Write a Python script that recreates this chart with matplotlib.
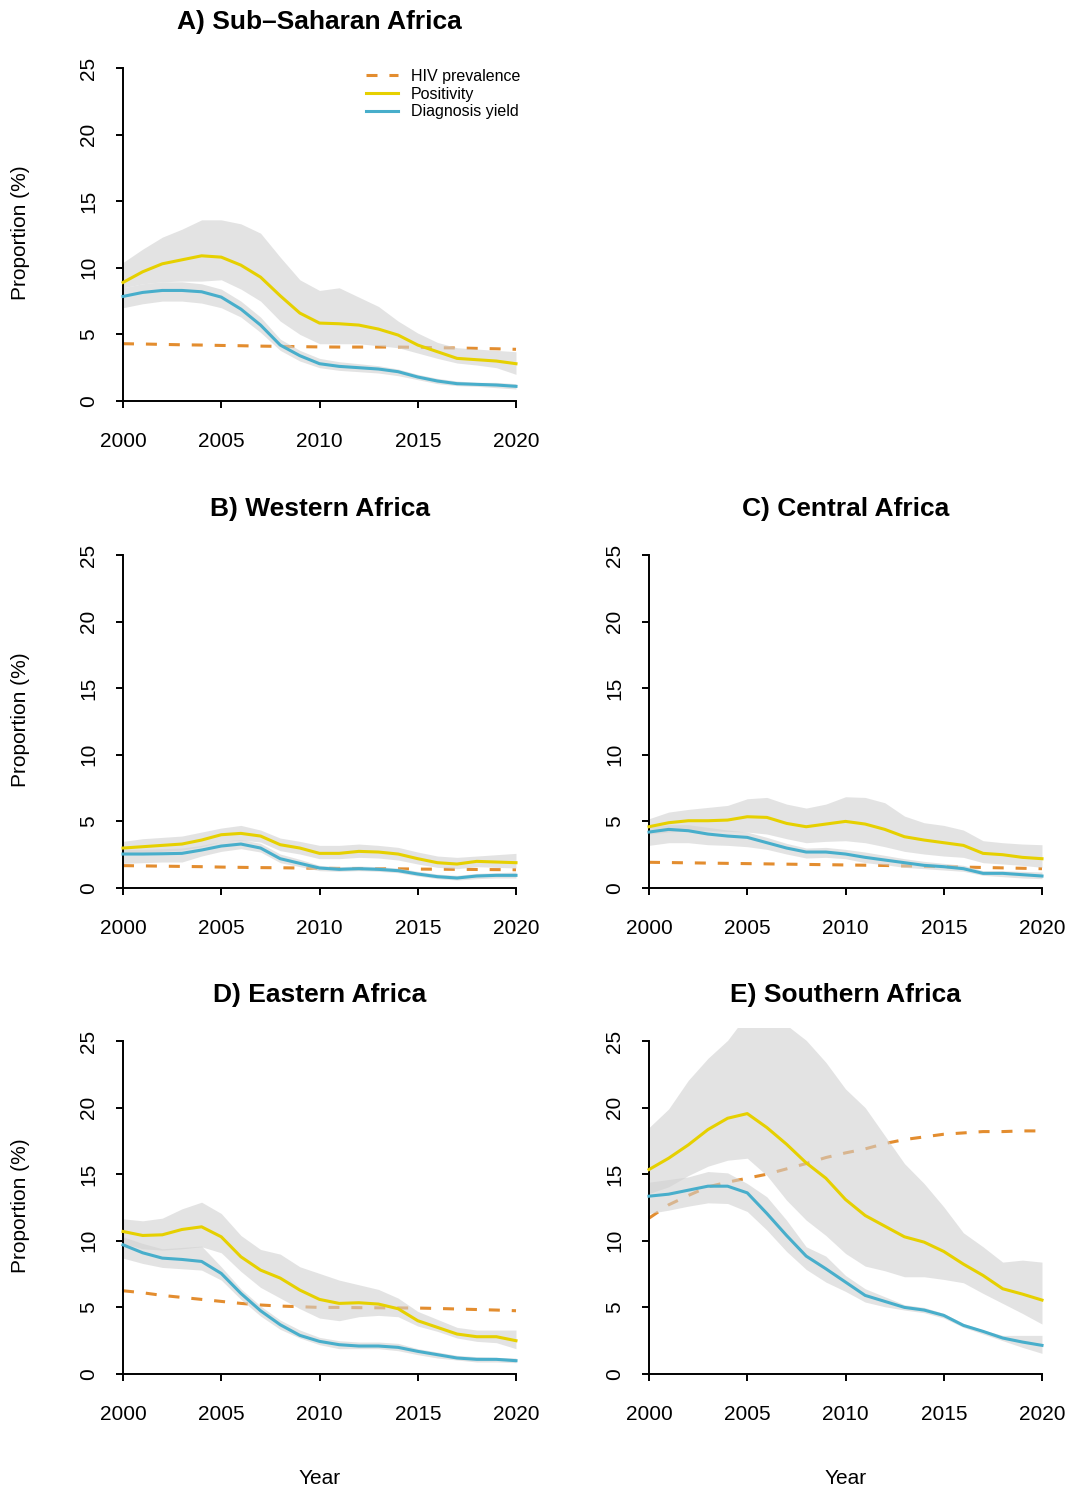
import matplotlib
matplotlib.use("Agg")
import matplotlib.pyplot as plt
import numpy as np

plt.rcParams['font.family'] = ['Liberation Sans', 'DejaVu Sans']

years = list(range(2000, 2021))

# A) Sub-Saharan Africa
ssa_hiv = [4.30, 4.28, 4.25, 4.22, 4.20, 4.17, 4.15, 4.12, 4.10, 4.08, 4.06, 4.05, 4.05, 4.05, 4.05, 4.03, 4.00, 3.98, 3.95, 3.92, 3.88]
ssa_pos = [8.9, 9.7, 10.3, 10.6, 10.9, 10.8, 10.2, 9.3, 7.9, 6.6, 5.85, 5.8, 5.7, 5.4, 4.95, 4.2, 3.7, 3.2, 3.1, 3.0, 2.8]
ssa_pos_hi = [10.4, 11.4, 12.3, 12.9, 13.6, 13.6, 13.3, 12.6, 10.8, 9.1, 8.3, 8.5, 7.8, 7.1, 6.0, 5.1, 4.4, 4.0, 3.9, 3.8, 3.7]
ssa_pos_lo = [8.5, 8.8, 8.95, 9.0, 9.0, 9.1, 8.4, 7.5, 6.0, 5.0, 4.3, 4.3, 4.3, 4.15, 4.0, 3.6, 3.2, 2.85, 2.7, 2.5, 2.0]
ssa_yld = [7.85, 8.15, 8.3, 8.3, 8.2, 7.8, 6.9, 5.7, 4.2, 3.4, 2.8, 2.6, 2.5, 2.4, 2.2, 1.8, 1.5, 1.3, 1.25, 1.2, 1.1]
ssa_yld_hi = [8.5, 8.8, 8.95, 8.95, 8.8, 8.4, 7.5, 6.3, 4.65, 3.8, 3.2, 2.95, 2.8, 2.65, 2.4, 2.0, 1.7, 1.5, 1.4, 1.4, 1.3]
ssa_yld_lo = [7.0, 7.3, 7.5, 7.5, 7.35, 7.0, 6.3, 5.15, 3.8, 3.0, 2.5, 2.3, 2.2, 2.1, 1.9, 1.6, 1.3, 1.15, 1.1, 1.0, 0.9]

# B) Western Africa
wa_hiv = [1.68, 1.66, 1.64, 1.62, 1.60, 1.57, 1.55, 1.53, 1.52, 1.50, 1.48, 1.47, 1.46, 1.45, 1.44, 1.42, 1.41, 1.40, 1.39, 1.38, 1.37]
wa_pos = [3.0, 3.1, 3.2, 3.3, 3.6, 4.0, 4.1, 3.9, 3.25, 3.0, 2.6, 2.6, 2.75, 2.7, 2.55, 2.2, 1.9, 1.8, 2.0, 1.95, 1.9]
wa_pos_hi = [3.5, 3.7, 3.8, 3.9, 4.2, 4.5, 4.7, 4.35, 3.75, 3.5, 3.2, 3.2, 3.3, 3.2, 3.05, 2.7, 2.4, 2.3, 2.4, 2.5, 2.6]
wa_pos_lo = [2.55, 2.65, 2.75, 2.85, 3.1, 3.5, 3.6, 3.45, 2.8, 2.55, 2.2, 2.2, 2.3, 2.25, 2.1, 1.8, 1.55, 1.45, 1.6, 1.55, 1.5]
wa_yld = [2.55, 2.55, 2.57, 2.6, 2.85, 3.15, 3.3, 3.0, 2.2, 1.85, 1.5, 1.4, 1.45, 1.4, 1.3, 1.05, 0.85, 0.75, 0.9, 0.95, 0.95]
wa_yld_hi = [2.9, 2.9, 2.95, 3.0, 3.2, 3.5, 3.65, 3.35, 2.55, 2.15, 1.7, 1.6, 1.65, 1.6, 1.5, 1.25, 1.05, 0.95, 1.1, 1.15, 1.2]
wa_yld_lo = [1.85, 1.9, 1.95, 1.95, 2.4, 2.75, 2.95, 2.7, 1.9, 1.6, 1.3, 1.25, 1.3, 1.25, 1.15, 0.9, 0.7, 0.6, 0.7, 0.75, 0.75]

# C) Central Africa
ca_hiv = [1.93, 1.91, 1.89, 1.87, 1.85, 1.83, 1.81, 1.79, 1.77, 1.75, 1.73, 1.71, 1.69, 1.66, 1.63, 1.60, 1.57, 1.54, 1.51, 1.48, 1.45]
ca_pos = [4.6, 4.9, 5.05, 5.05, 5.1, 5.35, 5.3, 4.85, 4.6, 4.8, 5.0, 4.8, 4.4, 3.85, 3.6, 3.4, 3.2, 2.6, 2.5, 2.3, 2.2]
ca_pos_hi = [5.2, 5.7, 5.9, 6.05, 6.2, 6.7, 6.8, 6.3, 6.0, 6.3, 6.85, 6.8, 6.4, 5.4, 4.9, 4.7, 4.35, 3.55, 3.4, 3.3, 3.25]
ca_pos_lo = [4.05, 4.2, 4.3, 4.3, 4.25, 4.2, 4.05, 3.7, 3.4, 3.5, 3.55, 3.4, 3.1, 2.75, 2.55, 2.4, 2.3, 1.9, 1.8, 1.7, 1.55]
ca_yld = [4.2, 4.4, 4.3, 4.05, 3.9, 3.8, 3.4, 3.0, 2.7, 2.7, 2.55, 2.3, 2.1, 1.9, 1.7, 1.6, 1.45, 1.1, 1.1, 1.0, 0.9]
ca_yld_hi = [4.6, 4.75, 4.75, 4.55, 4.35, 4.2, 3.8, 3.35, 3.0, 3.05, 2.9, 2.7, 2.45, 2.2, 2.0, 1.85, 1.7, 1.3, 1.3, 1.25, 1.2]
ca_yld_lo = [3.2, 3.4, 3.4, 3.25, 3.2, 3.1, 2.9, 2.55, 2.25, 2.3, 2.2, 1.9, 1.75, 1.55, 1.45, 1.35, 1.25, 0.95, 0.85, 0.75, 0.7]

# D) Eastern Africa
ea_hiv = [6.25, 6.1, 5.9, 5.75, 5.6, 5.45, 5.3, 5.18, 5.1, 5.05, 5.0, 5.0, 4.98, 4.97, 4.96, 4.95, 4.92, 4.88, 4.84, 4.8, 4.75]
ea_pos = [10.7, 10.4, 10.45, 10.85, 11.05, 10.3, 8.8, 7.8, 7.2, 6.3, 5.6, 5.3, 5.35, 5.25, 4.9, 4.0, 3.5, 3.0, 2.8, 2.8, 2.5]
ea_pos_hi = [11.65, 11.5, 11.7, 12.4, 12.9, 12.05, 10.4, 9.35, 9.0, 8.05, 7.55, 7.05, 6.7, 6.35, 5.7, 4.7, 4.1, 3.5, 3.3, 3.3, 3.3]
ea_pos_lo = [9.8, 9.4, 9.3, 9.4, 9.55, 9.1, 7.7, 6.5, 5.7, 4.9, 4.2, 4.0, 4.3, 4.4, 4.3, 3.6, 3.2, 2.7, 2.45, 2.35, 1.9]
ea_yld = [9.7, 9.1, 8.7, 8.6, 8.45, 7.55, 6.05, 4.75, 3.7, 2.9, 2.45, 2.2, 2.1, 2.1, 2.0, 1.7, 1.45, 1.2, 1.1, 1.1, 1.0]
ea_yld_hi = [10.3, 9.8, 9.4, 9.5, 9.6, 8.05, 6.4, 5.1, 4.05, 3.3, 2.75, 2.5, 2.4, 2.4, 2.3, 1.9, 1.65, 1.4, 1.3, 1.25, 1.2]
ea_yld_lo = [8.7, 8.3, 8.0, 7.9, 7.8, 7.05, 5.6, 4.35, 3.35, 2.7, 2.2, 1.9, 1.9, 1.9, 1.75, 1.45, 1.2, 1.05, 0.9, 0.9, 0.85]

# E) Southern Africa
sa_hiv = [11.7, 12.7, 13.4, 14.05, 14.4, 14.7, 15.0, 15.4, 15.8, 16.25, 16.6, 16.9, 17.3, 17.6, 17.8, 18.0, 18.1, 18.2, 18.2, 18.25, 18.25]
sa_pos = [15.35, 16.2, 17.2, 18.35, 19.2, 19.55, 18.5, 17.25, 15.85, 14.7, 13.1, 11.9, 11.1, 10.3, 9.9, 9.2, 8.25, 7.4, 6.4, 6.0, 5.55]
sa_pos_hi = [18.5, 19.9, 22.05, 23.7, 25.05, 27.0, 27.2, 26.2, 25.05, 23.4, 21.4, 20.0, 17.9, 15.8, 14.3, 12.55, 10.6, 9.55, 8.4, 8.55, 8.4]
sa_pos_lo = [13.55, 14.05, 14.9, 15.6, 16.05, 16.2, 14.9, 13.05, 11.55, 10.4, 9.05, 8.1, 7.75, 7.3, 7.3, 7.1, 6.85, 6.05, 5.3, 4.55, 3.75]
sa_yld = [13.35, 13.5, 13.8, 14.1, 14.1, 13.6, 12.05, 10.4, 8.85, 7.9, 6.9, 5.9, 5.45, 5.0, 4.8, 4.4, 3.65, 3.2, 2.7, 2.4, 2.15]
sa_yld_hi = [14.4, 14.6, 14.8, 15.2, 15.1, 14.3, 13.3, 11.55, 9.55, 8.85, 7.4, 6.4, 5.8, 5.2, 5.0, 4.55, 3.8, 3.3, 2.9, 2.9, 2.9]
sa_yld_lo = [12.05, 12.3, 12.6, 12.85, 12.8, 12.2, 10.8, 9.2, 7.85, 6.9, 6.2, 5.4, 5.05, 4.8, 4.6, 4.2, 3.5, 3.0, 2.5, 2.0, 1.55]

x_ticks = [2000, 2005, 2010, 2015, 2020]
y_ticks = [0, 5, 10, 15, 20, 25]

col_hiv = "#E38D2F"
col_pos = "#E6D000"
col_yld = "#48AECB"
col_band = "#D1D1D1"

W, H = 1070, 1487
fig = plt.figure(figsize=(W / 100, H / 100), dpi=100)


def draw_panel(x0, y0, title, hiv, pos, pos_lo, pos_hi, yld, yld_lo, yld_hi,
               xlabel=False, legend=False):
    # x0: pixel of year 2000, y0: pixel of y=0 ; plot region goes 0..26
    h = 26 * 13.32
    ax = fig.add_axes([x0 / W, 1 - y0 / H, 393 / W, h / H])
    ax.plot(years, hiv, color=col_hiv, lw=2.2, dashes=(3.6, 3.9),
            label="HIV prevalence", zorder=1, clip_on=False)
    ax.fill_between(years, pos_lo, pos_hi, color=col_band, alpha=0.6, lw=0, zorder=2)
    ax.fill_between(years, yld_lo, yld_hi, color=col_band, alpha=0.6, lw=0, zorder=2)
    ax.plot(years, pos, color=col_pos, lw=2.2, label="Positivity", zorder=3, clip_on=False)
    ax.plot(years, yld, color=col_yld, lw=2.2, label="Diagnosis yield", zorder=3, clip_on=False)

    ax.set_xlim(2000, 2020)
    ax.set_ylim(0, 26)
    for s in ["top", "right"]:
        ax.spines[s].set_visible(False)
    ax.spines["left"].set_bounds(0, 25)
    ax.spines["bottom"].set_bounds(2000, 2020)
    ax.spines["left"].set_linewidth(1.4)
    ax.spines["bottom"].set_linewidth(1.4)
    ax.set_xticks(x_ticks)
    ax.set_xticklabels([str(v) for v in x_ticks], fontsize=15)
    ax.set_yticks(y_ticks)
    ax.set_yticklabels([str(v) for v in y_ticks], fontsize=15, rotation=90, va="center")
    ax.tick_params(axis="both", direction="out", length=5, width=1.4)
    ax.tick_params(axis="x", pad=17)
    ax.tick_params(axis="y", pad=13)

    cx = x0 + 393 / 2
    top = y0 - h
    fig.text(cx / W, 1 - (top - 25.4) / H, title, ha="center", va="baseline",
             fontsize=19, fontweight="bold")
    if x0 < 300:
        fig.text(20.5 / W, 1 - (y0 - h / 2 + 5) / H, "Proportion (%)", rotation=90,
                 ha="center", va="center", fontsize=15)
    if xlabel:
        fig.text(cx / W, 1 - 1484 / H, "Year", ha="center", va="baseline", fontsize=15)
    if legend:
        ax.legend(loc="upper left", bbox_to_anchor=(366 / W, 1 - 69 / H),
                  bbox_transform=fig.transFigure, frameon=False, borderpad=0,
                  borderaxespad=0, handlelength=2.0, handletextpad=0.8,
                  labelspacing=0.17, fontsize=11.5)
    return ax


draw_panel(123, 401, "A) Sub\u2013Saharan Africa", ssa_hiv, ssa_pos, ssa_pos_lo, ssa_pos_hi,
           ssa_yld, ssa_yld_lo, ssa_yld_hi, legend=True)
draw_panel(123, 888, "B) Western Africa", wa_hiv, wa_pos, wa_pos_lo, wa_pos_hi,
           wa_yld, wa_yld_lo, wa_yld_hi)
draw_panel(649, 888, "C) Central Africa", ca_hiv, ca_pos, ca_pos_lo, ca_pos_hi,
           ca_yld, ca_yld_lo, ca_yld_hi)
draw_panel(123, 1374, "D) Eastern Africa", ea_hiv, ea_pos, ea_pos_lo, ea_pos_hi,
           ea_yld, ea_yld_lo, ea_yld_hi, xlabel=True)
draw_panel(649, 1374, "E) Southern Africa", sa_hiv, sa_pos, sa_pos_lo, sa_pos_hi,
           sa_yld, sa_yld_lo, sa_yld_hi, xlabel=True)

plt.savefig("out.png", dpi=100)
